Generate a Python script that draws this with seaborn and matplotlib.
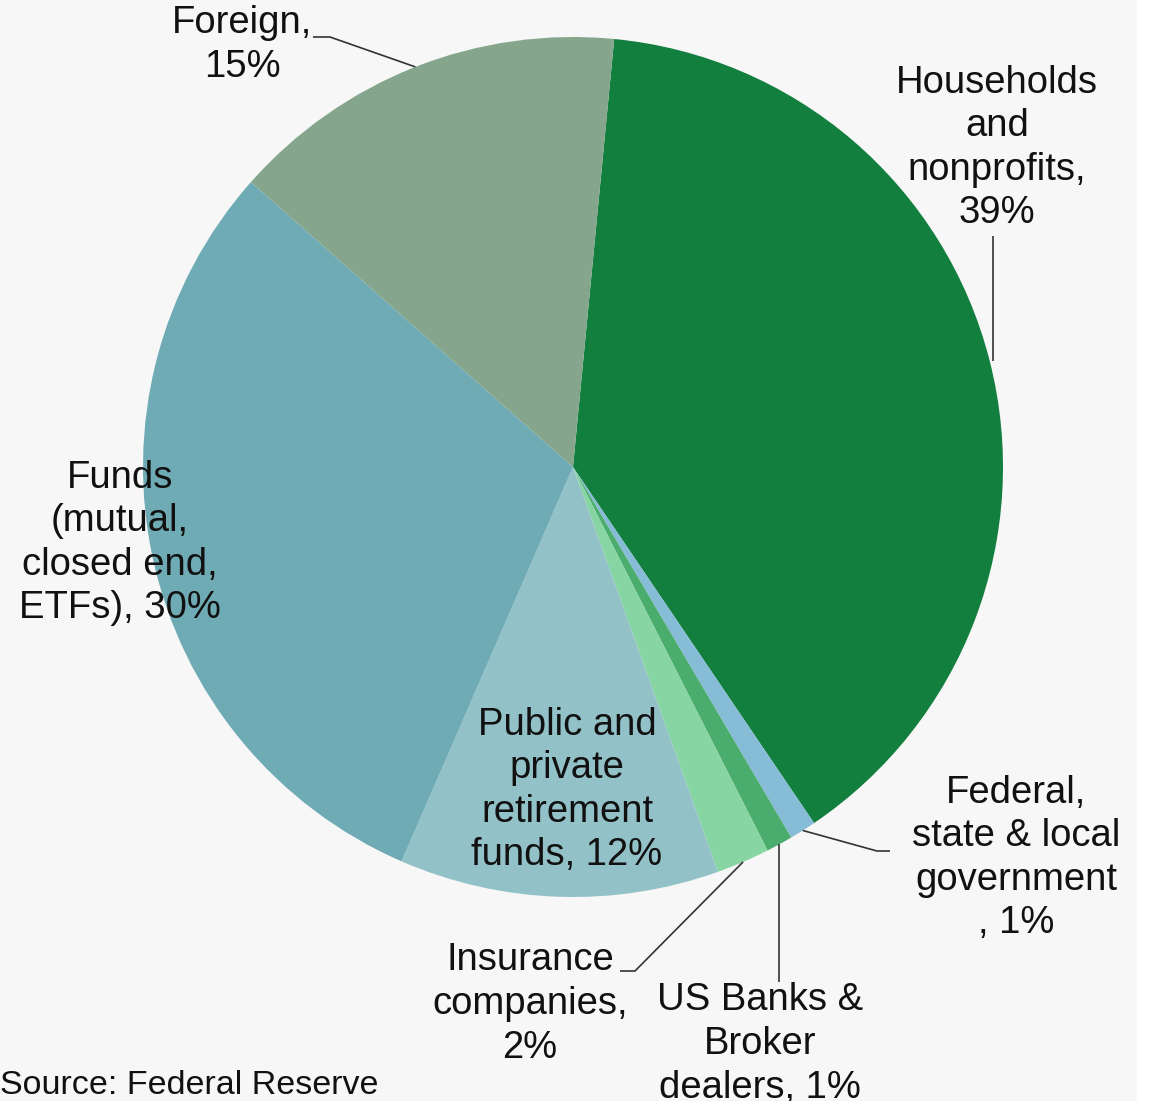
import numpy as np
import matplotlib
matplotlib.use("Agg")
import matplotlib.pyplot as plt
from matplotlib.patches import Rectangle
import seaborn as sns

# Holders of US corporate equities, share of total (%)
categories = [
    "Households and nonprofits",
    "Federal, state & local government",
    "US Banks & Broker dealers",
    "Insurance companies",
    "Public and private retirement funds",
    "Funds (mutual, closed end, ETFs)",
    "Foreign",
]
shares = [39, 1, 1, 2, 12, 30, 15]
label_templates = [
    "Households\nand\nnonprofits,\n{}%",
    "Federal,\nstate & local\ngovernment\n, {}%",
    "US Banks &\nBroker\ndealers, {}%",
    "Insurance\ncompanies,\n{}%",
    "Public and\nprivate\nretirement\nfunds, {}%",
    "Funds\n(mutual,\nclosed end,\nETFs), {}%",
    "Foreign,\n{}%",
]
slice_colors = ["#137f3e", "#86bcd6", "#4bad6d", "#87d5a2", "#93c1c8", "#6fabb5", "#85a68c"]
source_note = "Source: Federal Reserve"

sns.set_theme(style="white")
plt.rcParams["font.family"] = ["Liberation Sans", "DejaVu Sans"]
palette = sns.color_palette(slice_colors)

W, H = 1150, 1101
fig = plt.figure(figsize=(W / 100, H / 100), dpi=100)
fig.patch.set_facecolor("white")
ax = fig.add_axes([0, 0, 1, 1])


def up(y):
    """Convert a top-down pixel row into the axis' bottom-up coordinate."""
    return H - y


ax.add_patch(Rectangle((0, 0), 1137, H, facecolor="#f7f7f7", edgecolor="none", zorder=0))

cx, cy, R = 573, up(467), 430
wedges, _ = ax.pie(
    shares,
    colors=palette,
    startangle=84.5,
    counterclock=False,
    center=(cx, cy),
    radius=R,
    wedgeprops=dict(linewidth=0, zorder=1),
)
ax.set_xlim(0, W)
ax.set_ylim(0, H)
ax.set_aspect("equal")
ax.axis("off")


def edge_point(w):
    mid = np.deg2rad((w.theta1 + w.theta2) / 2)
    return cx + R * np.cos(mid), cy + R * np.sin(mid)


fs = 27.5
text_kw = dict(fontsize=fs, ha="center", va="center", color="#111111", linespacing=1.27, zorder=5)
label_pos = [(997, 148), (1016, 858), (760, 1044), (530, 1004), (567, 790), (120, 543), (242, 45)]
for tmpl, v, (tx, ty) in zip(label_templates, shares, label_pos):
    ax.text(tx, up(ty), tmpl.format(v), **text_kw)

line_kw = dict(color="#333333", linewidth=1.2, zorder=4, solid_capstyle="butt")

# Households: straight vertical leader up to the label
ex, ey = edge_point(wedges[0])
ax.plot([ex + 3, ex + 3], [ey, up(236)], **line_kw)
# Federal, state & local government
ex, ey = edge_point(wedges[1])
ax.plot([ex, 877, 890], [ey, up(851), up(851)], **line_kw)
# US Banks & Broker dealers
ex, ey = edge_point(wedges[2])
ax.plot([ex, ex], [ey, up(982)], **line_kw)
# Insurance companies
ex, ey = edge_point(wedges[3])
ax.plot([ex, 635, 620], [ey, up(971), up(971)], **line_kw)
# Foreign
ex, ey = edge_point(wedges[6])
ax.plot([ex, 330, 313], [ey, up(37), up(37)], **line_kw)

ax.text(0, up(1085), source_note, fontsize=24.5, ha="left", va="center", color="#111111", zorder=5)

fig.savefig("out.png", dpi=100, facecolor=fig.get_facecolor())
